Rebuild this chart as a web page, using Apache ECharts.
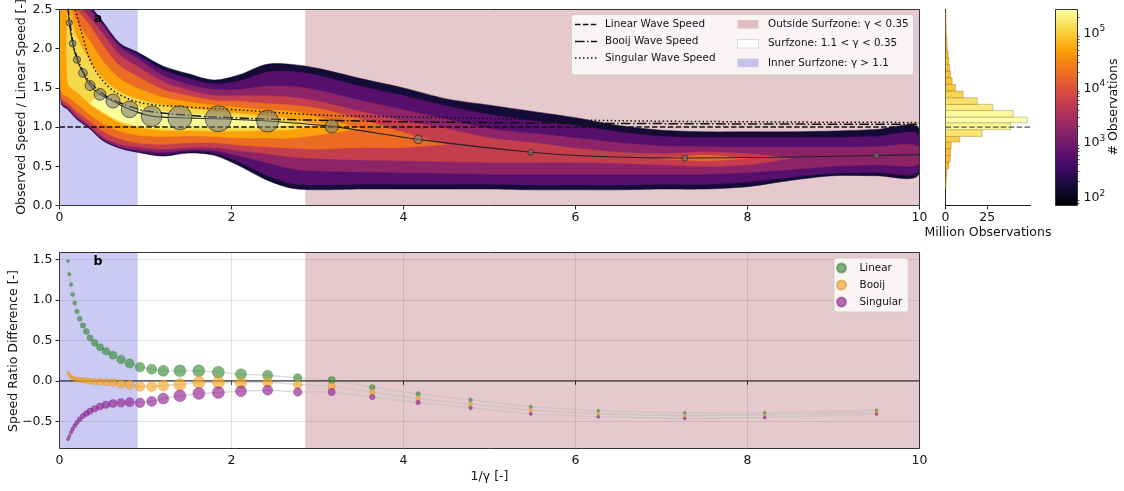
<!DOCTYPE html>
<html><head><meta charset="utf-8">
<script src="https://cdn.jsdelivr.net/npm/echarts@6/dist/echarts.min.js"></script>
<style>html,body{margin:0;padding:0;background:#fff}#c{width:1124px;height:491px}</style>
</head><body><div id="c"></div>
<script>
// ---------------- DATA ----------------
// zone boundaries in 1/gamma
const zoneX0 = [0, 2.857];
const zoneX1 = [0.909, 10];

// density contours (log10 # observations)
const hexX = [0.02,0.1,0.2,0.35,0.5,0.7,0.9,1.2,1.5,1.8,2.1,2.4,2.7,3.0,3.5,4.0,4.5,5.0,5.5,6.0,6.5,7.0,7.5,8.0,8.5,9.0,9.5,9.98];
const levelLog = [2.2, 2.75, 3.25, 3.75, 4.25, 4.7, 5.1, 5.4];
const l0Lo = [1.3,1.22,1.1,0.98,0.83,0.73,0.68,0.63,0.67,0.64,0.5,0.33,0.22,0.2,0.21,0.21,0.21,0.21,0.2,0.2,0.2,0.21,0.21,0.24,0.32,0.38,0.38,0.38];
const l0Hi = [2.7,2.7,2.7,2.55,2.35,2.07,1.96,1.78,1.68,1.6,1.67,1.8,1.8,1.75,1.62,1.5,1.36,1.28,1.2,1.12,1.02,0.96,0.94,0.94,0.94,0.95,0.97,1.0];
const l1Lo = [1.31,1.23,1.11,0.99,0.84,0.74,0.69,0.65,0.69,0.67,0.55,0.39,0.28,0.26,0.27,0.27,0.27,0.27,0.26,0.26,0.26,0.27,0.27,0.3,0.36,0.41,0.42,0.42];
const l1Hi = [2.7,2.7,2.68,2.53,2.33,2.05,1.93,1.73,1.62,1.55,1.59,1.7,1.71,1.66,1.52,1.4,1.27,1.16,1.08,1.02,0.94,0.88,0.87,0.87,0.87,0.87,0.88,0.91];
const l2Lo = [1.32,1.24,1.12,1.0,0.85,0.75,0.71,0.68,0.71,0.7,0.63,0.55,0.47,0.44,0.43,0.42,0.41,0.4,0.4,0.4,0.4,0.4,0.4,0.42,0.46,0.5,0.52,0.52];
const l2Hi = [2.7,2.7,2.65,2.5,2.3,2.02,1.88,1.66,1.54,1.48,1.48,1.52,1.52,1.47,1.34,1.22,1.1,0.98,0.92,0.86,0.8,0.76,0.75,0.74,0.74,0.74,0.75,0.76];
const l3Lo = [1.34,1.26,1.15,1.02,0.88,0.78,0.75,0.72,0.74,0.74,0.7,0.66,0.62,0.6,0.58,0.57,0.56,0.55,0.55,0.55,0.54,0.52,0.5,0.52,0.6,null,null,null];
const l3Hi = [2.7,2.68,2.58,2.4,2.2,1.92,1.78,1.58,1.47,1.4,1.4,1.4,1.38,1.33,1.2,1.08,0.98,0.86,0.8,0.73,0.68,0.66,0.68,0.66,0.6,null,null,null];
const l4Lo = [1.38,1.3,1.2,1.08,0.95,0.85,0.8,0.78,0.8,0.8,0.77,0.75,0.73,0.72,0.74,0.74,0.78,null,null,null,null,0.6,0.57,0.6,null,null,null,null];
const l4Hi = [2.7,2.65,2.5,2.3,2.05,1.78,1.65,1.48,1.4,1.34,1.33,1.3,1.28,1.24,1.1,0.93,0.78,null,null,null,null,0.6,0.64,0.6,null,null,null,null];
const l5Lo = [1.45,1.38,1.3,1.16,1.05,0.95,0.9,0.88,0.89,0.88,0.86,0.86,0.86,0.9,0.98,null,null,null,null,null,null,null,null,null,null,null,null,null];
const l5Hi = [2.65,2.6,2.35,2.1,1.85,1.62,1.5,1.38,1.32,1.28,1.25,1.22,1.2,1.13,0.98,null,null,null,null,null,null,null,null,null,null,null,null,null];
const l6Lo = [null,1.55,1.45,1.3,1.18,1.06,1.0,0.96,0.96,0.95,0.95,0.96,0.97,1.03,null,null,null,null,null,null,null,null,null,null,null,null,null,null];
const l6Hi = [null,2.45,2.15,1.85,1.62,1.45,1.36,1.28,1.24,1.2,1.17,1.14,1.1,1.03,null,null,null,null,null,null,null,null,null,null,null,null,null,null];
const l7Lo = [null,null,null,1.3,1.2,1.08,1.02,0.99,0.99,0.99,0.99,1.0,1.03,null,null,null,null,null,null,null,null,null,null,null,null,null,null,null];
const l7Hi = [null,null,null,1.3,1.42,1.32,1.26,1.2,1.17,1.15,1.12,1.09,1.03,null,null,null,null,null,null,null,null,null,null,null,null,null,null,null];

// wave-speed reference curves
const linearX = [0, 10];
const linearY = [1, 1];
const booijX = [0.095,0.15,0.2,0.3,0.4,0.5,0.6,0.8,1.0,1.5,2.0,2.5,3.0,4.0,5.0,6.0,8.0,10.0];
const booijY = [2.55,2.12,1.9,1.66,1.52,1.43,1.36,1.27,1.21,1.15,1.12,1.1,1.088,1.068,1.057,1.05,1.04,1.035];
const singX = [0.18,0.188,0.277,0.374,0.53,0.723,1.0,1.5,2.0,3.0,4.0,5.0,6.0,7.0,8.0,9.0,10.0];
const singY = [2.55,2.49,2.13,1.81,1.56,1.4,1.3,1.255,1.225,1.155,1.13,1.11,1.09,1.075,1.068,1.062,1.06];

// observed binned means (panel a)
const aX = [0.114,0.153,0.203,0.273,0.355,0.471,0.622,0.816,1.072,1.40,1.847,2.42,3.165,4.17,5.48,7.27,9.5];
const aY = [2.33,2.065,1.86,1.69,1.53,1.418,1.332,1.226,1.14,1.12,1.107,1.077,1.009,0.843,0.68,0.605,0.638];
const aSize = [6,6.7,7.3,8.7,10,11.7,14,16.7,20.7,24,26,22,13.3,8.7,6,6,6];
const fitX = [0.098,0.114,0.153,0.203,0.273,0.355,0.471,0.622,0.816,1.072,1.40,1.847,2.42,3.165,4.17,5.48,6.3,7.27,8.3,9.5,10];
const fitY = [2.56,2.33,2.065,1.86,1.69,1.53,1.418,1.332,1.226,1.14,1.12,1.107,1.077,1.009,0.843,0.68,0.625,0.605,0.615,0.638,0.647];

// histogram (million observations per speed-ratio bin)
const histEdges = [0.215,0.3,0.385,0.47,0.555,0.64,0.725,0.81,0.881,0.967,1.056,1.128,1.213,1.29,1.375,1.46,1.545,1.63,1.715,1.8,1.885,1.97,2.055,2.14,2.225,2.31,2.395,2.48];
const histVals = [0.3,0.5,0.8,2.0,2.8,3.0,3.4,8.6,22,39,49,40.6,28.4,19,10.6,6,4,3,2.4,2.0,1.6,1.0,0.8,0.5,0.4,0.3,0.2];
const histRefX = [0, 51];
const histRefY = [1, 1];

// colorbar
const cbMin = 72, cbMax = 275000;
const cbTicks = [100, 1000, 10000, 100000];
const cbMinorTicks = [80,90,200,300,400,500,600,700,800,900,2000,3000,4000,5000,6000,7000,8000,9000,20000,30000,40000,50000,60000,70000,80000,90000,200000];

// panel b
const bX = [0.099,0.114,0.134,0.153,0.177,0.203,0.235,0.273,0.312,0.355,0.409,0.471,0.541,0.622,0.715,0.816,0.936,1.072,1.207,1.40,1.62,1.847,2.11,2.42,2.77,3.165,3.637,4.17,4.78,5.48,6.265,7.27,8.2,9.5];
const bLinear = [1.48,1.317,1.19,1.067,0.96,0.857,0.766,0.684,0.61,0.531,0.469,0.416,0.367,0.317,0.264,0.215,0.169,0.144,0.124,0.124,0.124,0.107,0.083,0.07,0.037,0.009,-0.078,-0.16,-0.234,-0.32,-0.37,-0.395,-0.395,-0.362];
const bBooij = [0.103,0.075,0.05,0.037,0.025,0.017,0.012,0.008,0.004,-0.004,-0.008,-0.012,-0.016,-0.02,-0.037,-0.049,-0.07,-0.07,-0.057,-0.045,-0.02,-0.02,-0.025,-0.016,-0.045,-0.065,-0.14,-0.218,-0.284,-0.362,-0.407,-0.43,-0.42,-0.386];
const bSingular = [-0.72,-0.683,-0.637,-0.597,-0.555,-0.514,-0.473,-0.432,-0.403,-0.374,-0.345,-0.316,-0.296,-0.28,-0.271,-0.263,-0.271,-0.255,-0.218,-0.185,-0.156,-0.144,-0.127,-0.115,-0.136,-0.136,-0.2,-0.267,-0.333,-0.407,-0.444,-0.464,-0.452,-0.41];
const bSize = [3,3.3,3.6,4,4.3,4.6,5,5.4,5.8,6.2,6.6,7,7.5,8,8.6,9.2,9.7,10,11,12,12,12,11,10,8.5,7.3,5.5,4.7,3.7,3.4,3.1,3,3,3];
const zeroX = [0, 10];
const zeroY = [0, 0];

// ---------------- STYLE HELPERS ----------------
const FONT = 'DejaVu Sans';
const INF = [[0,0,4],[22,11,57],[66,10,104],[106,23,110],[147,38,103],[188,55,84],[221,81,58],[243,120,25],[252,165,10],[246,215,70],[252,255,164]];
function inferno(t){
  t = Math.max(0, Math.min(1, t));
  const s = t * 10, i = Math.min(9, Math.floor(s)), f = s - i;
  const a = INF[i], b = INF[i + 1];
  const c = a.map((v, k) => Math.round(v + (b[k] - v) * f));
  return 'rgb(' + c.join(',') + ')';
}
const logMin = Math.log10(cbMin), logMax = Math.log10(cbMax);
const zip = (xs, ys) => xs.map((x, i) => [x, ys[i]]);

const levels = [[l0Lo,l0Hi],[l1Lo,l1Hi],[l2Lo,l2Hi],[l3Lo,l3Hi],[l4Lo,l4Hi],[l5Lo,l5Hi],[l6Lo,l6Hi],[l7Lo,l7Hi]];
const polys = [];
levels.forEach((lv, k) => {
  let run = [];
  for (let i = 0; i < hexX.length; i++) {
    if (lv[0][i] == null) { if (run.length) { polys.push({k, run}); run = []; } continue; }
    run.push(i);
  }
  if (run.length) polys.push({k, run});
});

const zoneColors = ['rgba(60,60,210,0.27)', 'rgba(150,40,50,0.25)'];
function zoneRender(params, api) {
  const cs = params.coordSys;
  const x0 = api.coord([api.value(0), 0])[0];
  const x1 = api.coord([api.value(1), 0])[0];
  return {type: 'rect', shape: {x: x0, y: cs.y, width: x1 - x0, height: cs.height},
          style: {fill: zoneColors[params.dataIndex]}};
}
const zoneData = zoneX0.map((x, i) => [x, zoneX1[i]]);

const axisLabelStyle = {fontFamily: FONT, fontSize: 12.5, color: '#111'};
const tickStyle = {show: true, length: 4, lineStyle: {color: '#222', width: 1}};

const chart = echarts.init(document.getElementById('c'), null, {renderer: 'canvas'});
const option = {
  animation: false,
  backgroundColor: '#fff',
  textStyle: {fontFamily: FONT},
  grid: [
    {left: 59.5, top: 9.5, width: 860, height: 196},
    {left: 945.5, top: 9.5, width: 85, height: 196},
    {left: 1055.5, top: 9.5, width: 22, height: 196},
    {left: 59.5, top: 252.5, width: 860, height: 196}
  ],
  xAxis: [
    {gridIndex: 0, type: 'value', min: 0, max: 10, interval: 2, axisLine: {show: false}, axisTick: tickStyle,
     splitLine: {show: false}, axisLabel: Object.assign({margin: 6}, axisLabelStyle)},
    {gridIndex: 1, type: 'value', min: 0, max: 51, interval: 25,
     axisLine: {show: true, lineStyle: {color: '#222', width: 1}},
     axisTick: Object.assign({customValues: [0, 25]}, tickStyle), splitLine: {show: false},
     axisLabel: Object.assign({margin: 6, customValues: [0, 25]}, axisLabelStyle),
     name: 'Million Observations', nameLocation: 'middle', nameGap: 21,
     nameTextStyle: {fontFamily: FONT, fontSize: 12.5, color: '#111'}},
    {gridIndex: 2, type: 'value', min: 0, max: 1, show: false},
    {gridIndex: 3, type: 'value', min: 0, max: 10, interval: 2, axisLine: {show: false}, axisTick: tickStyle,
     splitLine: {show: true, lineStyle: {color: 'rgba(176,176,176,0.35)', width: 1}},
     axisLabel: Object.assign({margin: 6}, axisLabelStyle)}
  ],
  yAxis: [
    {gridIndex: 0, type: 'value', min: 0, max: 2.5, interval: 0.5, axisLine: {show: false}, axisTick: tickStyle,
     splitLine: {show: false}, axisLabel: Object.assign({margin: 7, formatter: v => v.toFixed(1)}, axisLabelStyle)},
    {gridIndex: 1, type: 'value', min: 0, max: 2.5, interval: 0.5,
     axisLine: {show: true, lineStyle: {color: '#222', width: 1}}, axisTick: {show: false},
     axisLabel: {show: false}, splitLine: {show: false}},
    {gridIndex: 2, type: 'log', logBase: 10, min: cbMin, max: cbMax, position: 'right',
     axisLine: {show: false}, splitLine: {show: false},
     axisTick: Object.assign({customValues: cbTicks}, tickStyle),
     axisLabel: {customValues: cbTicks, margin: 6, fontFamily: FONT, color: '#111',
       formatter: v => '{b|10}{s|' + Math.round(Math.log10(v)) + '}',
       rich: {b: {fontFamily: FONT, fontSize: 12.5, color: '#111'},
              s: {fontFamily: FONT, fontSize: 9, color: '#111', padding: [0, 0, 9, 0]}}}},
    {gridIndex: 3, type: 'value', min: -0.835, max: 1.585, splitNumber: 5, axisLine: {show: false},
     axisTick: Object.assign({customValues: [-0.5, 0, 0.5, 1.0, 1.5]}, tickStyle),
     splitLine: {show: true, lineStyle: {color: 'rgba(176,176,176,0.35)', width: 1}},
     axisLabel: Object.assign({margin: 7, customValues: [-0.5, 0, 0.5, 1.0, 1.5],
       formatter: v => (v < 0 ? '\u2212' : '') + Math.abs(v).toFixed(1)}, axisLabelStyle)},
    {gridIndex: 2, type: 'log', logBase: 10, min: cbMin, max: cbMax, position: 'right',
     axisLine: {show: false}, splitLine: {show: false}, axisLabel: {show: false},
     axisTick: {show: true, length: 2, customValues: cbMinorTicks, lineStyle: {color: '#222', width: 0.8}}}
  ],
  legend: {
    data: ['Linear', 'Booij', 'Singular'], orient: 'vertical', left: 834, top: 258,
    itemWidth: 26, itemHeight: 9, itemGap: 5, icon: 'circle', padding: [4, 6, 4, 2],
    backgroundColor: 'rgba(255,255,255,0.8)', borderColor: 'rgba(204,204,204,0.8)', borderWidth: 1, borderRadius: 3,
    selectedMode: false, textStyle: {fontFamily: FONT, fontSize: 10.4, color: '#111', lineHeight: 12}
  },
  series: [
    // panel a zones
    {type: 'custom', name: 'zonesA', xAxisIndex: 0, yAxisIndex: 0, z: 1, silent: true,
     data: zoneData, renderItem: zoneRender},
    // hexbin density as contour bands
    {type: 'custom', name: 'density', xAxisIndex: 0, yAxisIndex: 0, z: 2, silent: true, clip: true,
     data: polys.map((p, i) => [i]),
     renderItem: function (params, api) {
       const p = polys[params.dataIndex];
       const lo = levels[p.k][0], hi = levels[p.k][1];
       const pts = p.run.map(i => api.coord([hexX[i], hi[i]]))
         .concat(p.run.slice().reverse().map(i => api.coord([hexX[i], lo[i]])));
       const col = inferno((levelLog[p.k] - logMin) / (logMax - logMin));
       return {type: 'polygon', shape: {points: pts, smooth: 0.3},
               style: {fill: col, stroke: col, lineWidth: 0.5}};
     }},
    {type: 'line', name: 'Linear Wave Speed', xAxisIndex: 0, yAxisIndex: 0, z: 3, data: zip(linearX, linearY),
     symbol: 'none', silent: true, lineStyle: {color: '#111', width: 1.5, type: [5.5, 2.4]}},
    {type: 'line', name: 'Booij Wave Speed', xAxisIndex: 0, yAxisIndex: 0, z: 3, data: zip(booijX, booijY),
     symbol: 'none', smooth: 0.4, silent: true, lineStyle: {color: '#111', width: 1.5, type: [9.6, 2.4, 1.5, 2.4]}},
    {type: 'line', name: 'Singular Wave Speed', xAxisIndex: 0, yAxisIndex: 0, z: 3, data: zip(singX, singY),
     symbol: 'none', smooth: 0.4, silent: true, lineStyle: {color: '#111', width: 1.5, type: [1.5, 2.5]}},
    {type: 'line', name: 'fit', xAxisIndex: 0, yAxisIndex: 0, z: 3, data: zip(fitX, fitY),
     symbol: 'none', smooth: 0.3, silent: true, lineStyle: {color: '#222', width: 1.1}},
    {type: 'scatter', name: 'observed', xAxisIndex: 0, yAxisIndex: 0, z: 4,
     data: aX.map((x, i) => [x, aY[i], aSize[i]]), symbolSize: v => v[2], silent: true,
     itemStyle: {color: 'rgba(120,120,120,0.7)', borderColor: 'rgba(20,20,20,0.75)', borderWidth: 1}},
    // histogram
    {type: 'custom', name: 'hist', xAxisIndex: 1, yAxisIndex: 1, z: 2, silent: true,
     data: histVals.map((v, i) => [histEdges[i], histEdges[i + 1], v]),
     renderItem: function (params, api) {
       const p0 = api.coord([0, api.value(1)]);
       const p1 = api.coord([api.value(2), api.value(0)]);
       const v = api.value(2);
       const col = inferno(0.78 + 0.22 * Math.sqrt(v / 49));
       return {type: 'rect', shape: {x: p0[0], y: p0[1], width: p1[0] - p0[0], height: p1[1] - p0[1]},
               style: {fill: col, opacity: 0.9, stroke: 'rgba(130,100,40,0.55)', lineWidth: 0.7}};
     }},
    {type: 'line', name: 'histRef', xAxisIndex: 1, yAxisIndex: 1, z: 3, data: zip(histRefX, histRefY),
     symbol: 'none', silent: true, lineStyle: {color: '#555', width: 1.2, type: [5.5, 2.4]}},
    // colorbar
    {type: 'custom', name: 'colorbar', xAxisIndex: 2, yAxisIndex: 2, z: 2, silent: true,
     data: [[0, cbMin, 1, cbMax]],
     renderItem: function (params, api) {
       const p0 = api.coord([api.value(0), api.value(3)]);
       const p1 = api.coord([api.value(2), api.value(1)]);
       const stops = INF.map((c, k) => ({offset: k / 10, color: 'rgb(' + c.join(',') + ')'}));
       return {type: 'rect', shape: {x: p0[0], y: p0[1], width: p1[0] - p0[0], height: p1[1] - p0[1]},
               style: {fill: new echarts.graphic.LinearGradient(0, 1, 0, 0, stops)}};
     }},
    // panel b zones
    {type: 'custom', name: 'zonesB', xAxisIndex: 3, yAxisIndex: 3, z: 1, silent: true,
     data: zoneData, renderItem: zoneRender},
    {type: 'line', name: 'zero', xAxisIndex: 3, yAxisIndex: 3, z: 3, data: zip(zeroX, zeroY),
     symbol: 'none', silent: true, lineStyle: {color: '#333', width: 1.3}},
    {type: 'line', name: 'linL', xAxisIndex: 3, yAxisIndex: 3, z: 2, data: zip(bX, bLinear),
     symbol: 'none', silent: true, lineStyle: {color: 'rgba(190,190,190,0.55)', width: 1.4}},
    {type: 'line', name: 'booL', xAxisIndex: 3, yAxisIndex: 3, z: 2, data: zip(bX, bBooij),
     symbol: 'none', silent: true, lineStyle: {color: 'rgba(190,190,190,0.55)', width: 1.4}},
    {type: 'line', name: 'sinL', xAxisIndex: 3, yAxisIndex: 3, z: 2, data: zip(bX, bSingular),
     symbol: 'none', silent: true, lineStyle: {color: 'rgba(190,190,190,0.55)', width: 1.4}},
    {type: 'scatter', name: 'Linear', xAxisIndex: 3, yAxisIndex: 3, z: 4,
     data: bX.map((x, i) => [x, bLinear[i], bSize[i]]), symbolSize: v => v[2], silent: true,
     itemStyle: {color: 'rgba(52,140,52,0.78)', borderColor: 'rgba(40,110,40,0.6)', borderWidth: 0.6}},
    {type: 'scatter', name: 'Booij', xAxisIndex: 3, yAxisIndex: 3, z: 4,
     data: bX.map((x, i) => [x, bBooij[i], bSize[i]]), symbolSize: v => v[2], silent: true,
     itemStyle: {color: 'rgba(250,165,30,0.8)', borderColor: 'rgba(200,130,20,0.6)', borderWidth: 0.6}},
    {type: 'scatter', name: 'Singular', xAxisIndex: 3, yAxisIndex: 3, z: 4,
     data: bX.map((x, i) => [x, bSingular[i], bSize[i]]), symbolSize: v => v[2], silent: true,
     itemStyle: {color: 'rgba(145,30,145,0.8)', borderColor: 'rgba(110,20,110,0.6)', borderWidth: 0.6}}
  ],
  graphic: [
    // frames
    {type: 'rect', z: 100, silent: true, shape: {x: 59.5, y: 9.5, width: 860, height: 196}, style: {fill: null, stroke: '#333', lineWidth: 1}},
    {type: 'rect', z: 100, silent: true, shape: {x: 59.5, y: 252.5, width: 860, height: 196}, style: {fill: null, stroke: '#333', lineWidth: 1}},
    {type: 'rect', z: 100, silent: true, shape: {x: 1055.5, y: 9.5, width: 22, height: 196}, style: {fill: null, stroke: '#333', lineWidth: 1}},
    // panel letters
    {type: 'text', z: 100, silent: true, x: 98, y: 19, style: {text: 'a', font: 'bold 12.5px "DejaVu Sans"', fill: '#000', align: 'center', verticalAlign: 'middle'}},
    {type: 'text', z: 100, silent: true, x: 98, y: 262, style: {text: 'b', font: 'bold 12.5px "DejaVu Sans"', fill: '#000', align: 'center', verticalAlign: 'middle'}},
    // axis titles
    {type: 'text', z: 100, silent: true, x: 22, y: 107, rotation: Math.PI / 2,
     style: {text: 'Observed Speed / Linear Speed [-]', font: '12.5px "DejaVu Sans"', fill: '#111', align: 'center', verticalAlign: 'middle'}},
    {type: 'text', z: 100, silent: true, x: 14, y: 351, rotation: Math.PI / 2,
     style: {text: 'Speed Ratio Difference [-]', font: '12.5px "DejaVu Sans"', fill: '#111', align: 'center', verticalAlign: 'middle'}},
    {type: 'text', z: 100, silent: true, x: 489.5, y: 476.5,
     style: {text: '1/\u03b3 [-]', font: '12.5px "DejaVu Sans"', fill: '#111', align: 'center', verticalAlign: 'middle'}},
    {type: 'text', z: 100, silent: true, x: 1114, y: 107, rotation: Math.PI / 2,
     style: {text: '# Observations', font: '12.5px "DejaVu Sans"', fill: '#111', align: 'center', verticalAlign: 'middle'}},
    // legend (panel a)
    {type: 'rect', z: 90, silent: true, shape: {x: 571.5, y: 14.5, width: 342, height: 60.5, r: 3},
     style: {fill: 'rgba(255,255,255,0.8)', stroke: 'rgba(204,204,204,0.8)', lineWidth: 1}},
    {type: 'line', z: 91, silent: true, shape: {x1: 575, y1: 24.5, x2: 597, y2: 24.5}, style: {stroke: '#111', lineWidth: 1.5, lineDash: [5.5, 2.4]}},
    {type: 'line', z: 91, silent: true, shape: {x1: 575, y1: 41.5, x2: 597, y2: 41.5}, style: {stroke: '#111', lineWidth: 1.5, lineDash: [9.6, 2.4, 1.5, 2.4]}},
    {type: 'line', z: 91, silent: true, shape: {x1: 575, y1: 58, x2: 597, y2: 58}, style: {stroke: '#111', lineWidth: 1.5, lineDash: [1.5, 2.5]}},
    {type: 'text', z: 91, silent: true, x: 605, y: 24.5, style: {text: 'Linear Wave Speed', font: '10.4px "DejaVu Sans"', fill: '#111', verticalAlign: 'middle'}},
    {type: 'text', z: 91, silent: true, x: 605, y: 41.5, style: {text: 'Booij Wave Speed', font: '10.4px "DejaVu Sans"', fill: '#111', verticalAlign: 'middle'}},
    {type: 'text', z: 91, silent: true, x: 605, y: 58, style: {text: 'Singular Wave Speed', font: '10.4px "DejaVu Sans"', fill: '#111', verticalAlign: 'middle'}},
    {type: 'rect', z: 91, silent: true, shape: {x: 737.5, y: 20, width: 21, height: 8.5}, style: {fill: 'rgba(150,40,50,0.27)'}},
    {type: 'rect', z: 91, silent: true, shape: {x: 737.5, y: 39.5, width: 21, height: 8.5}, style: {fill: '#fff', stroke: 'rgba(205,205,205,0.9)', lineWidth: 0.8}},
    {type: 'rect', z: 91, silent: true, shape: {x: 737.5, y: 58.7, width: 21, height: 8.5}, style: {fill: 'rgba(60,60,210,0.27)'}},
    {type: 'text', z: 91, silent: true, x: 768, y: 24.3, style: {text: 'Outside Surfzone: \u03b3 < 0.35', font: '10.4px "DejaVu Sans"', fill: '#111', verticalAlign: 'middle'}},
    {type: 'text', z: 91, silent: true, x: 768, y: 43.7, style: {text: 'Surfzone: 1.1 < \u03b3 < 0.35', font: '10.4px "DejaVu Sans"', fill: '#111', verticalAlign: 'middle'}},
    {type: 'text', z: 91, silent: true, x: 768, y: 63, style: {text: 'Inner Surfzone: \u03b3 > 1.1', font: '10.4px "DejaVu Sans"', fill: '#111', verticalAlign: 'middle'}}
  ]
};
chart.setOption(option);
</script></body></html>
